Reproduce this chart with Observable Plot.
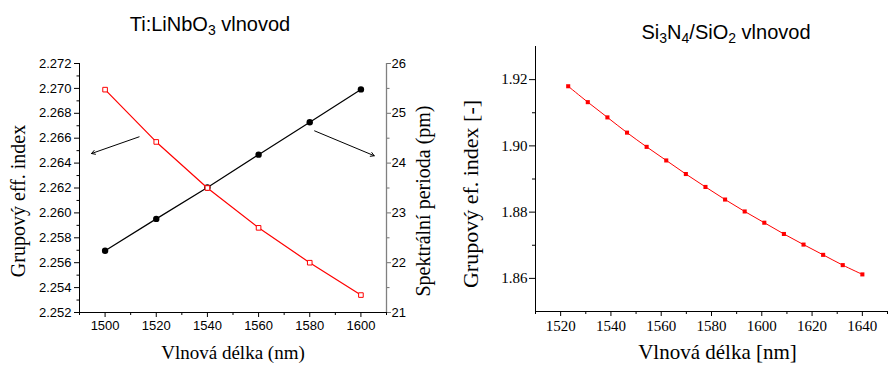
<!DOCTYPE html>
<html>
<head>
<meta charset="utf-8">
<script src="https://cdn.jsdelivr.net/npm/d3@7"></script>
<script src="https://cdn.jsdelivr.net/npm/@observablehq/plot@0.6"></script>
<style>
  html, body { margin: 0; padding: 0; background: #fff; }
  #wrap { position: relative; width: 889px; height: 365px; overflow: hidden; background: #fff; }
  .panel { position: absolute; top: 0; }
  .title { position: absolute; font-family: "Liberation Sans", Arial, sans-serif; font-size: 20px; line-height: 20px; white-space: nowrap; transform: translateX(-50%); color: #000; }
  .title sub { font-size: 14px; vertical-align: -4px; line-height: 0; }
  #right svg text { font-family: "Liberation Serif", "Times New Roman", serif !important; }
</style>
</head>
<body>
<div id="wrap">
  <div id="left" class="panel" style="left:0px"></div>
  <div id="right" class="panel" style="left:445px"></div>
  <div class="title" style="left:210px; top:14px">Ti:LiNbO<sub>3</sub> vlnovod</div>
  <div class="title" style="left:726px; top:22px">Si<sub>3</sub>N<sub>4</sub>/SiO<sub>2</sub> vlnovod</div>
</div>
<script>
// ---------- Left chart data (Ti:LiNbO3) ----------
const wavelengthTi = [1500, 1520, 1540, 1560, 1580, 1600];
const groupIndexTi = [2.2699, 2.2657, 2.2620, 2.2588, 2.2560, 2.2534];
const spectralPeriod = [22.24, 22.88, 23.51, 24.17, 24.82, 25.48];

const xTicksTi = [1500, 1520, 1540, 1560, 1580, 1600];
const xMinorTi = [1490, 1510, 1530, 1550, 1570, 1590, 1610];
const yTicksTi = [2.252, 2.254, 2.256, 2.258, 2.260, 2.262, 2.264, 2.266, 2.268, 2.270, 2.272];
const yMinorTi = [2.253, 2.255, 2.257, 2.259, 2.261, 2.263, 2.265, 2.267, 2.269, 2.271];
const periodTicks = [21, 22, 23, 24, 25, 26];
const periodMinor = [21.5, 22.5, 23.5, 24.5, 25.5];

// annotation arrows (data units: wavelength, group index)
const arrowX1 = [1513.3, 1581.9];
const arrowY1 = [2.26611, 2.26659];
const arrowX2 = [1494.7, 1605.2];
const arrowY2 = [2.26477, 2.26459];

// ---------- Right chart data (Si3N4/SiO2) ----------
const wavelengthSi = [1523.0, 1530.8, 1538.6, 1546.4, 1554.2, 1562.0, 1569.8, 1577.6, 1585.4, 1593.2, 1601.0, 1608.8, 1616.6, 1624.4, 1632.2, 1640.0];
const groupIndexSi = [1.9180, 1.9132, 1.9086, 1.9040, 1.8997, 1.8956, 1.8915, 1.8876, 1.8838, 1.8802, 1.8768, 1.8734, 1.8702, 1.8671, 1.8640, 1.8612];

const xTicksSi = [1520, 1540, 1560, 1580, 1600, 1620, 1640];
const xMinorSi = [1510, 1530, 1550, 1570, 1590, 1610, 1630, 1650];
const yTicksSi = [1.86, 1.88, 1.90, 1.92];
const yMinorSi = [1.87, 1.89, 1.91];

// ---------- Left chart ----------
const yDomTi = [2.252, 2.272];
const pDom = [21, 26];
// map spectral period onto the left y scale (secondary axis)
const toLeft = v => yDomTi[0] + (v - pDom[0]) * (yDomTi[1] - yDomTi[0]) / (pDom[1] - pDom[0]);
const fromLeft = y => pDom[0] + (y - yDomTi[0]) * (pDom[1] - pDom[0]) / (yDomTi[1] - yDomTi[0]);

const tiRed = wavelengthTi.map((w, i) => ({w, v: groupIndexTi[i]}));
const tiBlack = wavelengthTi.map((w, i) => ({w, v: toLeft(spectralPeriod[i])}));
const arrows = arrowX1.map((x1, i) => ({x1, y1: arrowY1[i], x2: arrowX2[i], y2: arrowY2[i]}));

const serif = "'Liberation Serif', 'Times New Roman', serif";
const sans = "'Liberation Sans', Arial, sans-serif";

const left = Plot.plot({
  width: 445, height: 365,
  marginLeft: 79, marginRight: 59, marginTop: 63, marginBottom: 53,
  style: `font-family: ${sans}; font-size: 13px; background: white; color: black;`,
  x: {domain: [1490, 1610]},
  y: {domain: yDomTi},
  marks: [
    Plot.axisX(xTicksTi, {anchor: "bottom", tickSize: 5, tickPadding: 3, tickFormat: d => String(d), label: null, fontFamily: sans, fontSize: 13}),
    Plot.axisX(xMinorTi, {anchor: "bottom", tickSize: 3, tickFormat: () => "", label: null}),
    Plot.axisY(yTicksTi, {anchor: "left", tickSize: 5, tickPadding: 3, tickFormat: d3.format(".3f"), label: null, fontFamily: sans, fontSize: 13}),
    Plot.axisY(yMinorTi, {anchor: "left", tickSize: 2.5, tickFormat: () => "", label: null}),
    Plot.axisY(periodTicks.map(toLeft), {anchor: "right", tickSize: 4, tickPadding: 1, stroke: "#707070", fill: "black", tickFormat: d => String(Math.round(fromLeft(d))), label: null, fontFamily: sans, fontSize: 13}),
    Plot.axisY(periodMinor.map(toLeft), {anchor: "right", tickSize: 2.5, stroke: "#707070", tickFormat: () => "", label: null}),
    Plot.ruleX([1490], {stroke: "black"}),
    Plot.ruleX([1610], {stroke: "#808080", strokeWidth: 1.3}),
    Plot.ruleY([yDomTi[0]], {stroke: "black"}),
    Plot.line(tiBlack, {x: "w", y: "v", stroke: "black", strokeWidth: 1.2}),
    Plot.dot(tiBlack, {x: "w", y: "v", r: 3.2, fill: "black", stroke: "none"}),
    Plot.line(tiRed, {x: "w", y: "v", stroke: "#ff0000", strokeWidth: 1.2}),
    Plot.dot(tiRed, {x: "w", y: "v", symbol: "square", r: 2.6, fill: "white", stroke: "#ff0000", strokeWidth: 1}),
    Plot.arrow(arrows, {x1: "x1", y1: "y1", x2: "x2", y2: "y2", stroke: "black", strokeWidth: 1, headLength: 6}),
    Plot.text(["Grupový eff. index"], {frameAnchor: "left", textAnchor: "middle", lineAnchor: "middle", dx: -61, dy: 13, rotate: -90, fontFamily: serif, fontSize: 20, fill: "black"}),
    Plot.text(["Spektrální perioda (pm)"], {frameAnchor: "right", textAnchor: "middle", lineAnchor: "middle", dx: 37, dy: 13, rotate: -90, fontFamily: serif, fontSize: 20, fill: "black"}),
    Plot.text(["Vlnová délka (nm)"], {frameAnchor: "bottom", textAnchor: "middle", lineAnchor: "middle", dy: 40, fontFamily: serif, fontSize: 19, fill: "black"})
  ]
});
document.getElementById("left").appendChild(left);

// ---------- Right chart ----------
const si = wavelengthSi.map((w, i) => ({w, v: groupIndexSi[i]}));

const right = Plot.plot({
  width: 444, height: 365,
  marginLeft: 90, marginRight: 2, marginTop: 46, marginBottom: 54,
  style: `font-family: ${serif}; font-size: 15px; background: white; color: black;`,
  x: {domain: [1510, 1650]},
  y: {domain: [1.85, 1.93]},
  marks: [
    Plot.axisX(xTicksSi, {anchor: "bottom", tickSize: 5, tickPadding: 4, tickFormat: d => String(d), label: null, fontFamily: serif, fontSize: 15}),
    Plot.axisX(xMinorSi, {anchor: "bottom", tickSize: 3, tickFormat: () => "", label: null}),
    Plot.axisY(yTicksSi, {anchor: "left", tickSize: 6, tickPadding: 2, tickFormat: d3.format(".2f"), label: null, fontFamily: serif, fontSize: 15}),
    Plot.axisY(yMinorSi, {anchor: "left", tickSize: 3, tickFormat: () => "", label: null}),
    Plot.ruleX([1510], {stroke: "black"}),
    Plot.ruleY([1.85], {stroke: "black"}),
    Plot.line(si, {x: "w", y: "v", stroke: "#ff0000", strokeWidth: 1, curve: "catmull-rom"}),
    Plot.dot(si, {x: "w", y: "v", symbol: "square", r: 2.3, fill: "#ff0000", stroke: "none"}),
    Plot.text(["Grupový ef. index [-]"], {frameAnchor: "left", textAnchor: "middle", lineAnchor: "middle", dx: -65, dy: 15, rotate: -90, fontFamily: serif, fontSize: 22, fill: "black"}),
    Plot.text(["Vlnová délka [nm]"], {frameAnchor: "bottom", textAnchor: "middle", lineAnchor: "middle", dx: 6, dy: 41, fontFamily: serif, fontSize: 21, fill: "black"})
  ]
});
document.getElementById("right").appendChild(right);
</script>
</body>
</html>
